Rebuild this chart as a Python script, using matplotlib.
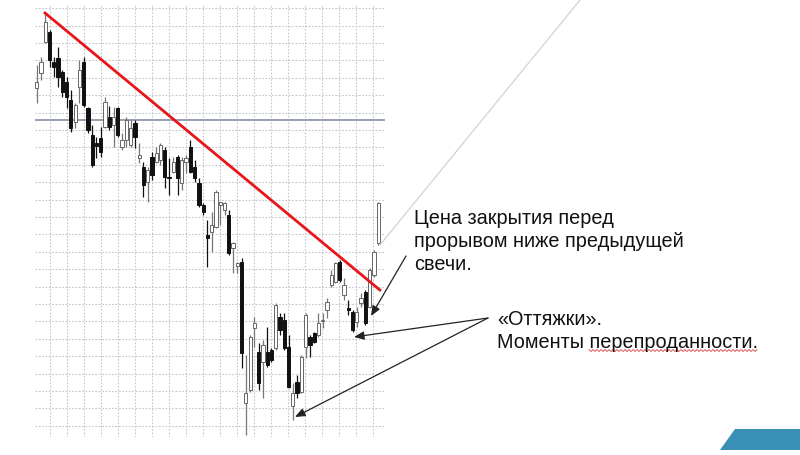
import matplotlib
matplotlib.use('Agg')
import matplotlib.pyplot as plt
from matplotlib.patches import Polygon
import numpy as np

# candle data (arbitrary price units), oldest first
opens = [367, 382, 413, 423, 393, 397, 383, 373, 355, 333, 368, 393, 347, 320, 312, 317,
         328, 338, 330, 347, 308, 315, 310, 332, 297, 288, 273, 298, 293, 295, 305, 278,
         283, 298, 272, 293, 308, 288, 272, 250, 220, 223, 228, 250, 245, 240, 207, 189,
         193, 52, 65, 127, 103, 93, 103, 105, 107, 138, 135, 108, 49, 73, 63, 108,
         118, 122, 120, 134, 145, 170, 173, 193, 160, 147, 143, 133, 152, 163, 148, 180, 212]
highs = [390, 398, 442, 425, 398, 408, 385, 378, 365, 352, 395, 398, 348, 330, 318, 328,
         358, 349, 348, 348, 322, 338, 335, 335, 312, 293, 288, 303, 308, 312, 308, 297,
         298, 300, 298, 300, 315, 295, 277, 252, 235, 243, 265, 253, 253, 245, 213, 193,
         197, 100, 120, 138, 112, 115, 128, 107, 152, 142, 142, 120, 72, 80, 100, 142,
         120, 123, 142, 142, 157, 185, 193, 195, 177, 155, 145, 148, 162, 165, 187, 205, 253]
lows = [352, 375, 412, 388, 378, 368, 358, 347, 323, 327, 352, 348, 322, 288, 297, 298,
        327, 325, 308, 318, 305, 308, 308, 307, 292, 258, 253, 275, 292, 290, 267, 260,
        282, 260, 265, 282, 282, 273, 248, 240, 188, 203, 227, 230, 240, 200, 182, 182,
        87, 20, 63, 108, 65, 57, 88, 93, 105, 120, 105, 67, 35, 57, 62, 97,
        98, 112, 118, 127, 137, 168, 172, 173, 155, 140, 123, 128, 148, 130, 147, 178, 210]
closes = [373, 393, 433, 395, 388, 378, 363, 358, 327, 350, 385, 350, 325, 290, 309, 303,
          353, 328, 338, 320, 315, 335, 327, 318, 300, 270, 285, 280, 302, 310, 278, 277,
          293, 277, 295, 297, 283, 277, 250, 243, 217, 230, 263, 253, 252, 202, 212, 192,
          102, 62, 118, 132, 72, 110, 90, 95, 150, 125, 107, 68, 62, 62, 98, 140,
          110, 113, 132, 135, 153, 180, 192, 175, 170, 145, 125, 143, 157, 132, 185, 203, 252]

# trend line through the highs, and the flat level line
trend_x = [1.94, 80.4]
trend_y = [442, 165]
level = 335

label_1 = ['Цена закрытия перед', 'прорывом ниже предыдущей', 'свечи.']
label_2 = ['«Оттяжки».', 'Моменты перепроданности.']

fig = plt.figure(figsize=(8, 4.55), dpi=100)

ax = fig.add_axes([35 / 800, 18 / 455, 350 / 800, 432 / 455])
x = np.arange(len(opens))
o = np.array(opens)
c = np.array(closes)
up = c >= o
ax.set_xlim(-0.4, 81.6)
ax.set_ylim(18, 450)

for v in np.arange(3.1, 81, 3.98):
    ax.axvline(v, color='#c2c6ce', lw=0.8, ls=(0, (1.5, 1.5)), zorder=0)
for v in np.arange(29.3, 450, 17.4):
    ax.axhline(v, color='#c2c6ce', lw=0.8, ls=(0, (1.5, 1.5)), zorder=0)
ax.axhline(level, color='#8e97a8', lw=1.3, zorder=1)

wick_col = np.where(up, '#777777', '#111111')
ax.vlines(x, lows, highs, colors=wick_col, lw=0.9, zorder=2)
body_h = np.maximum(np.abs(c - o), 1.5)
ax.bar(x, body_h, bottom=np.minimum(o, c), width=0.76,
       color=np.where(up, 'white', '#111111'),
       edgecolor=np.where(up, '#666666', '#111111'), linewidth=0.7, zorder=3)

ax.plot(trend_x, trend_y, color='#e8161b', lw=2.0, zorder=4)
for s in ax.spines.values():
    s.set_visible(False)
ax.set_xticks([])
ax.set_yticks([])

# slide overlay in pixel units
ov = fig.add_axes([0, 0, 1, 1], zorder=5)
ov.set_xlim(0, 800)
ov.set_ylim(455, 0)
ov.axis('off')
ov.patch.set_alpha(0)

ov.plot([580, 380], [0, 245], color='#d6d6d6', lw=1.0)
ov.add_patch(Polygon([[735, 429], [800, 429], [800, 450], [720, 450]],
                     closed=True, color='#3a8fb4', lw=0))

arrow = dict(arrowstyle='-|>,head_length=0.6,head_width=0.25', color='#222222', lw=0.9,
             shrinkA=0, shrinkB=0)
ov.annotate('', xy=(371, 316), xytext=(406, 256), arrowprops=arrow)
ov.annotate('', xy=(354, 337), xytext=(488, 318), arrowprops=arrow)
ov.annotate('', xy=(295, 417), xytext=(488, 318), arrowprops=arrow)

for i, line in enumerate(label_1):
    ov.text(414, 223.5 + 23.3 * i, line, fontsize=14.3, family='Liberation Sans',
            va='baseline', ha='left', color='#111111')
for i, line in enumerate(label_2):
    ov.text(497, 325 + 23.3 * i, line, fontsize=14.3, family='Liberation Sans',
            va='baseline', ha='left', color='#111111')

# spell-check squiggle under the last word
sq_x = np.linspace(589, 757, 85)
ov.plot(sq_x, 350.5 + 1.0 * np.where(np.arange(85) % 2 == 0, -1, 1), color='#e04040', lw=0.6)

fig.savefig('out.png', dpi=100)
